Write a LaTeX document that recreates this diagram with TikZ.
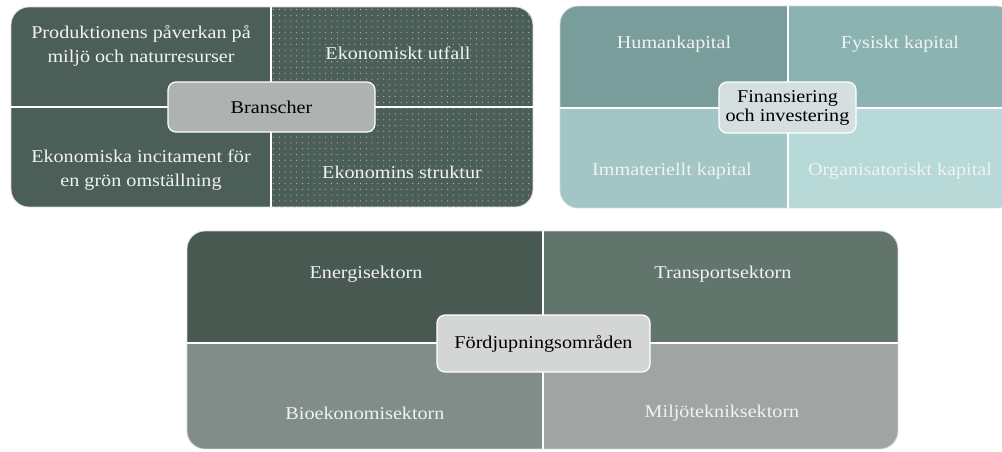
\documentclass[tikz,border=0pt]{standalone}
\usepackage{fontspec}
\setmainfont{Liberation Serif}[FakeStretch=1.12]

\definecolor{brBase}{RGB}{75,94,88}
\definecolor{brDot}{RGB}{178,192,187}
\definecolor{brHub}{RGB}{174,178,176}
\definecolor{fiA}{RGB}{120,157,155}
\definecolor{fiB}{RGB}{138,179,177}
\definecolor{fiC}{RGB}{161,198,197}
\definecolor{fiD}{RGB}{183,217,215}
\definecolor{fiHub}{RGB}{214,223,223}
\definecolor{foA}{RGB}{71,89,81}
\definecolor{foB}{RGB}{98,117,109}
\definecolor{foC}{RGB}{128,141,136}
\definecolor{foD}{RGB}{160,165,163}
\definecolor{foHub}{RGB}{212,214,213}
\definecolor{quadText}{RGB}{242,242,242}
\definecolor{frameGray}{RGB}{215,215,215}

\begin{document}
\begin{tikzpicture}[x=1pt, y=-1pt,
  quad/.style={text=quadText, align=center, inner sep=0pt,
    font=\fontsize{18}{24}\selectfont},
  hub/.style={draw=white, line width=1.2pt, rounded corners=8pt,
    align=center, text=black, inner sep=0pt,
    font=\fontsize{18}{19}\selectfont},
  divider/.style={draw=white, line width=1.3pt},
  frame/.style={draw=frameGray, line width=0.8pt, rounded corners=18pt}]
\useasboundingbox (0,0) rectangle (1002,451);

% ---------- Branscher ----------
\begin{scope}
  \clip[rounded corners=18pt] (11,7) rectangle (533,207);
  \fill[brBase] (11,7) rectangle (533,207);
  % dotted texture on the right half
  \foreach \i in {0,...,45} {
    \foreach \j in {0,...,34} {
      \fill[brDot] (273.5+5.8*\i,9.5+5.8*\j) circle[radius=0.6pt];
    }
  }
\end{scope}
\draw[frame] (11,7) rectangle (533,207);
\draw[divider] (271,7) -- (271,207) (11,107) -- (533,107);

\node[quad] (prod) at (141,46) {Produktionens påverkan på\\miljö och naturresurser};
\node[quad] (utfall) at (398,53) {Ekonomiskt utfall};
\node[quad] (incit) at (141,170) {Ekonomiska incitament för\\en grön omställning};
\node[quad] (struktur) at (402,172) {Ekonomins struktur};
\node[hub, fill=brHub, minimum width=207pt, minimum height=50pt]
  (branscher) at (271.5,107) {Branscher};

% ---------- Finansiering och investering ----------
\begin{scope}
  \clip[rounded corners=18pt] (560,6) rectangle (1014,208);
  \fill[fiA] (560,6) rectangle (788,108);
  \fill[fiB] (788,6) rectangle (1014,108);
  \fill[fiC] (560,108) rectangle (788,208);
  \fill[fiD] (788,108) rectangle (1014,208);
\end{scope}
\draw[frame] (560,6) rectangle (1014,208);
\draw[divider] (788,6) -- (788,208) (560,108) -- (1014,108);

\node[quad] (human) at (674,44) {Humankapital};
\node[quad] (fysiskt) at (900,44) {Fysiskt kapital};
\node[quad] (immat) at (672,171) {Immateriellt kapital};
\node[quad] (organ) at (900,171) {Organisatoriskt kapital};
\node[hub, fill=fiHub, minimum width=137pt, minimum height=51pt]
  (finans) at (787.5,107.5) {Finansiering\\och investering};

% ---------- Fördjupningsområden ----------
\begin{scope}
  \clip[rounded corners=18pt] (187,231) rectangle (898,449);
  \fill[foA] (187,231) rectangle (543,343);
  \fill[foB] (543,231) rectangle (898,343);
  \fill[foC] (187,343) rectangle (543,449);
  \fill[foD] (543,343) rectangle (898,449);
\end{scope}
\draw[frame] (187,231) rectangle (898,449);
\draw[divider] (543,231) -- (543,449) (187,343) -- (898,343);

\node[quad] (energi) at (366,274) {Energisektorn};
\node[quad] (transport) at (723,274) {Transportsektorn};
\node[quad] (bio) at (365,413) {Bioekonomisektorn};
\node[quad] (miljo) at (722,413) {Miljötekniksektorn};
\node[hub, fill=foHub, minimum width=213pt, minimum height=57pt]
  (fordj) at (543.5,343.5) {Fördjupningsområden};

\end{tikzpicture}
\end{document}
